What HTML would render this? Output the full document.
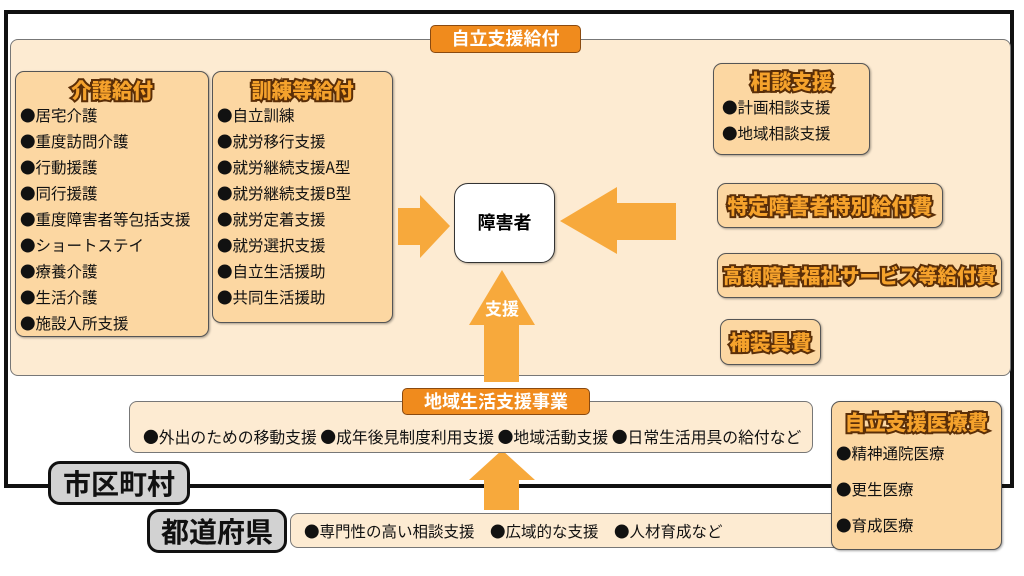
<!DOCTYPE html>
<html><head><meta charset="utf-8"><style>
*{margin:0;padding:0;box-sizing:border-box}
body{width:1024px;height:576px;background:#fff;position:relative;overflow:hidden;font-family:"Noto Sans CJK JP","Liberation Sans",sans-serif}
.a{position:absolute}
.frame{left:4px;top:10px;width:1010px;height:478px;border:4px solid #111}
.panel{background:#fdebd2;border:1.5px solid #777;border-radius:8px}
.box{background:#fcd7a2;border:1.5px solid #555;border-radius:9px;box-shadow:1px 1px 2px rgba(0,0,0,.35)}
.lab{background:#f08b1d;color:#fff;font-weight:bold;border:1.5px solid #8a4a10;border-radius:5px;text-align:center;font-size:18px;line-height:25px}
.h{color:#f5a22c;font-weight:900;font-size:20.5px;-webkit-text-stroke:4px #5a2e08;paint-order:stroke fill;text-align:center;white-space:nowrap}
.it{font-size:15.5px;color:#111;line-height:26px;white-space:nowrap;font-family:"Noto Sans CJK JP",sans-serif}
.gl{background:#d2d2d2;border:3px solid #111;border-radius:12px;font-weight:bold;font-size:28px;text-align:center;color:#111}
</style></head><body>
<div class="a frame"></div>
<div class="a panel" style="left:10px;top:39px;width:1001px;height:337px"></div>
<div class="a lab" style="left:430px;top:25px;width:151px;height:28px">自立支援給付</div>

<div class="a box" style="left:15px;top:71px;width:194px;height:266px">
<div class="h" style="margin-top:4px;line-height:26px">介護給付</div>
<div class="it" style="padding-left:4px">●居宅介護<br>●重度訪問介護<br>●行動援護<br>●同行援護<br>●重度障害者等包括支援<br>●ショートステイ<br>●療養介護<br>●生活介護<br>●施設入所支援</div></div>

<div class="a box" style="left:212px;top:71px;width:181px;height:252px">
<div class="h" style="margin-top:4px;line-height:26px">訓練等給付</div>
<div class="it" style="padding-left:4px">●自立訓練<br>●就労移行支援<br>●就労継続支援A型<br>●就労継続支援B型<br>●就労定着支援<br>●就労選択支援<br>●自立生活援助<br>●共同生活援助</div></div>

<div class="a box" style="left:713px;top:63px;width:157px;height:92px">
<div class="h" style="margin-top:3px;line-height:27px">相談支援</div>
<div class="it" style="padding-left:8px">●計画相談支援<br>●地域相談支援</div></div>

<div class="a box h" style="left:717px;top:183px;width:226px;height:45px;line-height:42px">特定障害者特別給付費</div>
<div class="a box h" style="left:717px;top:253px;width:285px;height:45px;line-height:42px;font-size:19.5px">高額障害福祉サービス等給付費</div>
<div class="a box h" style="left:720px;top:319px;width:101px;height:46px;line-height:43px">補装具費</div>

<svg class="a" style="left:0;top:0" width="1024" height="576">
<g fill="#f7a93c">
<polygon points="398,208 420,208 420,195 450,226 420,258 420,245 398,245"/>
<polygon points="676,203 617,203 617,187 560,221 617,254 617,240 676,240"/>
<polygon points="484,382 484,325 469,325 502,270 535,325 519,325 519,382"/>
<polygon points="484,510 484,480 469,480 502,450 535,480 519,480 519,510"/>
</g>
<text x="502" y="315" fill="#fff" font-size="17" font-weight="bold" text-anchor="middle" font-family="Noto Sans CJK JP,sans-serif">支援</text>
</svg>

<div class="a" style="left:454px;top:183px;width:101px;height:80px;background:#fff;border:1.5px solid #333;border-radius:14px;box-shadow:1px 1px 2px rgba(0,0,0,.3);font-weight:bold;font-size:18px;text-align:center;line-height:77px">障害者</div>

<div class="a panel" style="left:129px;top:401px;width:684px;height:52px"></div>
<div class="it a" style="left:143px;top:424px;font-size:15.8px">●外出のための移動支援 ●成年後見制度利用支援 ●地域活動支援 ●日常生活用具の給付など</div>
<div class="a lab" style="left:402px;top:388px;width:188px;height:27px">地域生活支援事業</div>

<div class="a panel" style="left:290px;top:513px;width:560px;height:35px"></div>
<div class="it a" style="left:304px;top:518px">●専門性の高い相談支援　●広域的な支援　●人材育成など</div>

<div class="a box" style="left:831px;top:401px;width:171px;height:149px">
<div class="h" style="margin-top:6px;line-height:27px">自立支援医療費</div>
<div class="it" style="padding-left:4px;line-height:36px">●精神通院医療<br>●更生医療<br>●育成医療</div></div>

<div class="a gl" style="left:48px;top:461px;width:142px;height:44px;line-height:38px">市区町村</div>
<div class="a gl" style="left:147px;top:509px;width:140px;height:44px;line-height:38px">都道府県</div>
</body></html>
